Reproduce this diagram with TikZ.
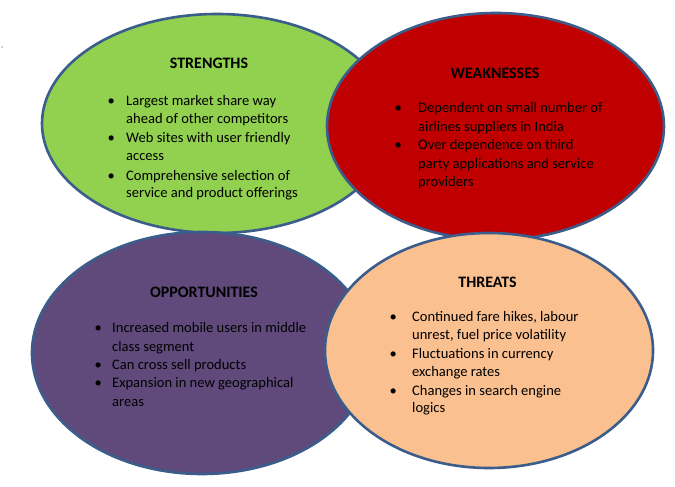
\documentclass[tikz,border=0pt]{standalone}
\usepackage{fontspec}
\setmainfont{Carlito}
\usetikzlibrary{shapes.geometric}
\definecolor{edgeblue}{HTML}{3B5D8B}
\definecolor{sgreen}{HTML}{92D050}
\definecolor{wred}{HTML}{C00000}
\definecolor{opurple}{HTML}{604A7B}
\definecolor{tpeach}{HTML}{FAC090}
\begin{document}
\begin{tikzpicture}[x=1bp,y=-1bp,
  quad/.style={ellipse, draw=edgeblue, line width=2.6bp, inner sep=0pt, outer sep=0pt},
  heading/.style={font=\fontsize{16}{19}\selectfont\bfseries, inner sep=0pt, anchor=center},
  bullets/.style={font=\fontsize{14.6}{#1}\selectfont, inner sep=0pt, anchor=north west, align=left},
  bullets/.default=17.6
]
\useasboundingbox (0,0) rectangle (675,487);

% stray mark at the left margin
\fill[edgeblue!60!black] (2,47) circle (0.7);

% the four quadrant ellipses, back to front
\node[quad, fill=sgreen,  minimum width=350bp, minimum height=219bp] (s) at (217,123.5) {};
\node[quad, fill=wred,    minimum width=337bp, minimum height=227bp] (w) at (495.5,126.5) {};
\node[quad, fill=opurple, minimum width=340bp, minimum height=242bp] (o) at (202,353) {};
\node[quad, fill=tpeach,  minimum width=328bp, minimum height=235bp] (t) at (489,350.5) {};

% strengths
\node[heading] (s-title) at (209,63) {STRENGTHS};
\node[bullets] (s-list) at (107.5,93) {\begin{tabular}{@{}p{18.5bp}@{}l@{}}
\textbullet & Largest market share way\\
 & ahead of other competitors\\[2.4pt]
\textbullet & Web sites with user friendly\\
 & access\\[2.4pt]
\textbullet & Comprehensive selection of\\
 & service and product offerings
\end{tabular}};

% weaknesses
\node[heading] (w-title) at (495,73) {WEAKNESSES};
\node[bullets=18.5] (w-list) at (394.5,99.5) {\begin{tabular}{@{}p{23.5bp}@{}l@{}}
\textbullet & Dependent on small number of\\
 & airlines suppliers in India\\[0.5pt]
\textbullet & Over dependence on third\\
 & party applications and service\\
 & providers
\end{tabular}};

% opportunities
\node[heading] (o-title) at (204,292) {OPPORTUNITIES};
\node[bullets=18.5] (o-list) at (94.5,319.5) {\begin{tabular}{@{}p{17.5bp}@{}l@{}}
\textbullet & Increased mobile users in middle\\
 & class segment\\
\textbullet & Can cross sell products\\
\textbullet & Expansion in new geographical\\
 & areas
\end{tabular}};

% threats
\node[heading] (t-title) at (487.5,282) {THREATS};
\node[bullets] (t-list) at (389.5,309.5) {\begin{tabular}{@{}p{22.5bp}@{}l@{}}
\textbullet & Continued fare hikes, labour\\
 & unrest, fuel price volatility\\[1.5pt]
\textbullet & Fluctuations in currency\\
 & exchange rates\\[1.5pt]
\textbullet & Changes in search engine\\
 & logics
\end{tabular}};
\end{tikzpicture}
\end{document}
